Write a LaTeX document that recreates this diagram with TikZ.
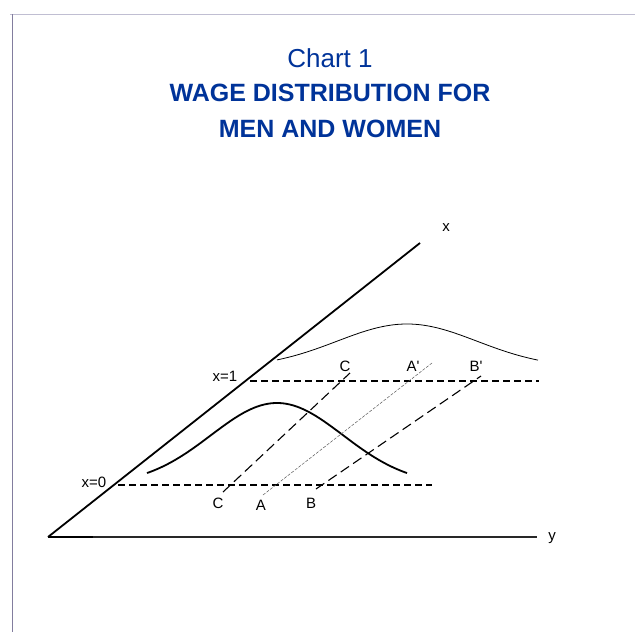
\documentclass[tikz,border=0pt]{standalone}
\usepackage{fontspec}
\setmainfont{Liberation Sans}
\definecolor{titleblue}{RGB}{0,51,153}
\definecolor{frametop}{RGB}{192,190,210}
\definecolor{frameleft}{RGB}{130,125,158}
\definecolor{axisgray}{RGB}{40,40,40}
\begin{document}
\begin{tikzpicture}[x=1pt,y=-1pt,
  lbl/.style={font=\fontsize{15}{17}\selectfont, inner sep=0pt, anchor=base},
  ttl/.style={text=titleblue, inner sep=0pt, anchor=base},
  axisline/.style={line width=1.8pt, black},
  levelline/.style={line width=1.8pt, dash pattern=on 7pt off 4pt},
  shiftline/.style={line width=1.1pt, dash pattern=on 10pt off 5pt},
  thinshift/.style={line width=0.5pt, gray!70!black, dash pattern=on 3pt off 1.5pt},
  framel/.style={line width=1pt}]
\useasboundingbox (0,0) rectangle (635,632);
% frame
\draw[framel, frametop] (10,14) -- (635,14);
\draw[framel, frameleft] (12,14) -- (12,632);
% title
\node[ttl, font=\fontsize{26}{30}\selectfont] (t1) at (330,67) {Chart 1};
\node[ttl, font=\fontsize{25}{30}\selectfont\bfseries] (t2) at (330,101) {WAGE DISTRIBUTION FOR};
\node[ttl, font=\fontsize{25}{30}\selectfont\bfseries] (t3) at (330,137) {MEN AND WOMEN};
% axes
\coordinate (O) at (48,537);
\coordinate (Xend) at (420,243);
\coordinate (Ymid) at (93,537);
\coordinate (Yend) at (537,537);
\draw[line width=1.2pt, axisgray] (O) -- (Yend);
\draw[axisline] (O) -- (Ymid);
\draw[axisline] (O) -- (Xend);
\node[lbl] (xl) at (446,231) {x};
\node[lbl] (yl) at (552,540) {y};
% level lines
\coordinate (L0a) at (118,485);
\coordinate (L0b) at (432,485);
\coordinate (L1a) at (250,381);
\coordinate (L1b) at (539,381);
\draw[levelline] (L0a) -- (L0b);
\draw[levelline] (L1a) -- (L1b);
\node[lbl] (x0) at (94,487) {x=0};
\node[lbl] (x1) at (225,381) {x=1};
% curves
\draw[line width=1.8pt] plot[domain=147:407, samples=90, smooth] (\x, {484.8-81.8*exp(-((\x-277)/66)^2/2)});
\draw[line width=0.8pt] plot[domain=277:538, samples=90, smooth] (\x, {367.7-43.7*exp(-((\x-407)/70)^2/2)});
% shift lines
\coordinate (Cl) at (223,492);
\coordinate (Cu) at (350,373);
\coordinate (Al) at (263,495);
\coordinate (Au) at (432,363);
\coordinate (Bl) at (316,489);
\coordinate (Bu) at (481,376);
\draw[shiftline] (Cl) -- (Cu);
\draw[thinshift] (Al) -- (Au);
\draw[shiftline] (Bl) -- (Bu);
% labels
\node[lbl] (cl) at (218,508) {C};
\node[lbl] (al) at (261,510) {A};
\node[lbl] (bl) at (311,508) {B};
\node[lbl] (cu) at (345,371) {C};
\node[lbl] (au) at (413,371) {A\textquotesingle};
\node[lbl] (bu) at (476,371) {B\textquotesingle};
\end{tikzpicture}
\end{document}
